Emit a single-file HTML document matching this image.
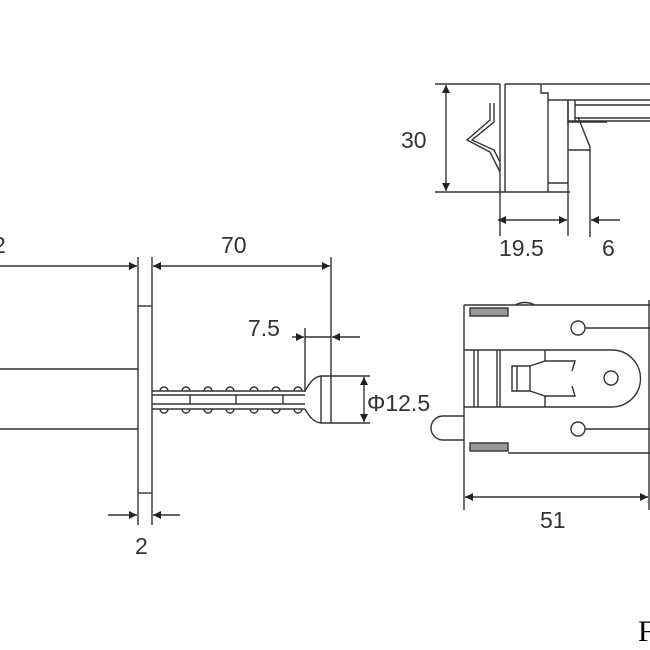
<!DOCTYPE html>
<html><head><style>body{margin:0;background:#fff}svg{display:block}</style></head><body>
<svg width="650" height="650" viewBox="0 0 650 650" xmlns="http://www.w3.org/2000/svg">
<defs>
<marker id="a" viewBox="0 0 10 10" refX="10" refY="5" markerWidth="10" markerHeight="8" orient="auto-start-reverse" markerUnits="userSpaceOnUse"><path d="M0,0L10,5L0,10z" fill="#222"/></marker>
</defs>
<g stroke="#333" stroke-width="1.4" fill="none">
<line x1="0" y1="266" x2="137" y2="266" marker-end="url(#a)"/>
<line x1="138" y1="257" x2="138" y2="525"/>
<line x1="152" y1="257" x2="152" y2="525"/>
<line x1="138" y1="306" x2="152" y2="306"/>
<line x1="138" y1="493" x2="152" y2="493"/>
<line x1="0" y1="369" x2="138" y2="369"/>
<line x1="0" y1="429" x2="138" y2="429"/>
<line x1="153" y1="266" x2="330" y2="266" marker-start="url(#a)" marker-end="url(#a)"/>
<line x1="331" y1="257" x2="331" y2="423"/>
<line x1="305" y1="328" x2="305" y2="392"/>
<line x1="292" y1="337" x2="304" y2="337" marker-end="url(#a)"/>
<line x1="305" y1="337" x2="331" y2="337"/>
<line x1="360" y1="337" x2="332" y2="337" marker-end="url(#a)"/>
<line x1="152" y1="391" x2="305" y2="391"/>
<line x1="152" y1="409" x2="305" y2="409"/>
<line x1="152" y1="395" x2="305" y2="395"/>
<line x1="152" y1="404" x2="305" y2="404"/>
<line x1="190" y1="395" x2="190" y2="404"/><line x1="236" y1="395" x2="236" y2="404"/><line x1="283" y1="395" x2="283" y2="404"/>
<path d="M160,391a4,4 0 0 1 8,0M182,391a4,4 0 0 1 8,0M204,391a4,4 0 0 1 8,0M226,391a4,4 0 0 1 8,0M250,391a4,4 0 0 1 8,0M272,391a4,4 0 0 1 8,0M294,391a4,4 0 0 1 8,0"/>
<path d="M160,409a4,4 0 0 0 8,0M182,409a4,4 0 0 0 8,0M204,409a4,4 0 0 0 8,0M226,409a4,4 0 0 0 8,0M250,409a4,4 0 0 0 8,0M272,409a4,4 0 0 0 8,0M294,409a4,4 0 0 0 8,0"/>
<path d="M305,391C310,382 314,377 321,376L370,376M305,409C310,418 314,422 321,423L370,423"/>
<line x1="321" y1="376" x2="321" y2="423"/>
<line x1="364" y1="377" x2="364" y2="422" marker-start="url(#a)" marker-end="url(#a)"/>
<line x1="108" y1="515" x2="137" y2="515" marker-end="url(#a)"/>
<line x1="180" y1="515" x2="153" y2="515" marker-end="url(#a)"/>
<line x1="435" y1="84" x2="500" y2="84"/>
<line x1="541" y1="84" x2="650" y2="84"/>
<line x1="435" y1="192" x2="570" y2="192"/>
<line x1="446" y1="85" x2="446" y2="191" marker-start="url(#a)" marker-end="url(#a)"/>
<line x1="500" y1="84" x2="500" y2="236"/>
<line x1="505" y1="84" x2="505" y2="192"/>
<line x1="505" y1="84" x2="541" y2="84"/>
<path d="M541,84V93H548V192M548,100H650M568,100V192M568,121H650M548,183H568"/>
<path d="M568,100V125M575,100V122M575,105H650M575,118H650M568,122H607"/>
<path d="M578,117L590,147V237M568,150H590"/>
<path d="M490,103V120L467,140L490,152L500,172M494,103V122L472,140L494,150L500,162"/>
<line x1="568" y1="192" x2="568" y2="236"/>
<line x1="498" y1="220" x2="567" y2="220" marker-start="url(#a)" marker-end="url(#a)"/>
<line x1="620" y1="220" x2="591" y2="220" marker-end="url(#a)"/>
<path d="M464,305V510M464,305H650M515,305Q525,300 535,305"/>
<rect x="470" y="308" width="38" height="8" fill="#999"/>
<rect x="470" y="443" width="38" height="8" fill="#999"/>
<circle cx="578" cy="328" r="7"/><line x1="585" y1="328" x2="650" y2="328"/>
<circle cx="578" cy="429" r="7"/><line x1="585" y1="429" x2="650" y2="429"/>
<path d="M464,350H612A28,28 0 0 1 612,407H464"/>
<circle cx="611" cy="378" r="7"/>
<path d="M474,350V407M478,350V407M497,350V407M500,350V407M545,350V361M545,396V407"/>
<path d="M512,366H530V391H512ZM517,366V391M530,366L545,361H575L572,371M530,391L545,396H575L572,386"/>
<path d="M508,453H650M464,416H443A12,12 0 0 0 443,440H464"/>
<line x1="465" y1="497" x2="648" y2="497" marker-start="url(#a)" marker-end="url(#a)"/>
<line x1="649" y1="300" x2="649" y2="510"/>
</g>
<g font-family="Liberation Sans, sans-serif" font-size="23" fill="#333">
<text x="-7" y="253">2</text>
<text x="221" y="253">70</text>
<text x="248" y="336">7.5</text>
<text x="367" y="411">Φ12.5</text>
<text x="135" y="554">2</text>
<text x="401" y="148">30</text>
<text x="499" y="256">19.5</text>
<text x="602" y="256">6</text>
<text x="540" y="528">51</text>
</g>
<text x="638" y="641" font-family="Liberation Serif, serif" font-size="30" fill="#000">F</text>
</svg>
</body></html>
